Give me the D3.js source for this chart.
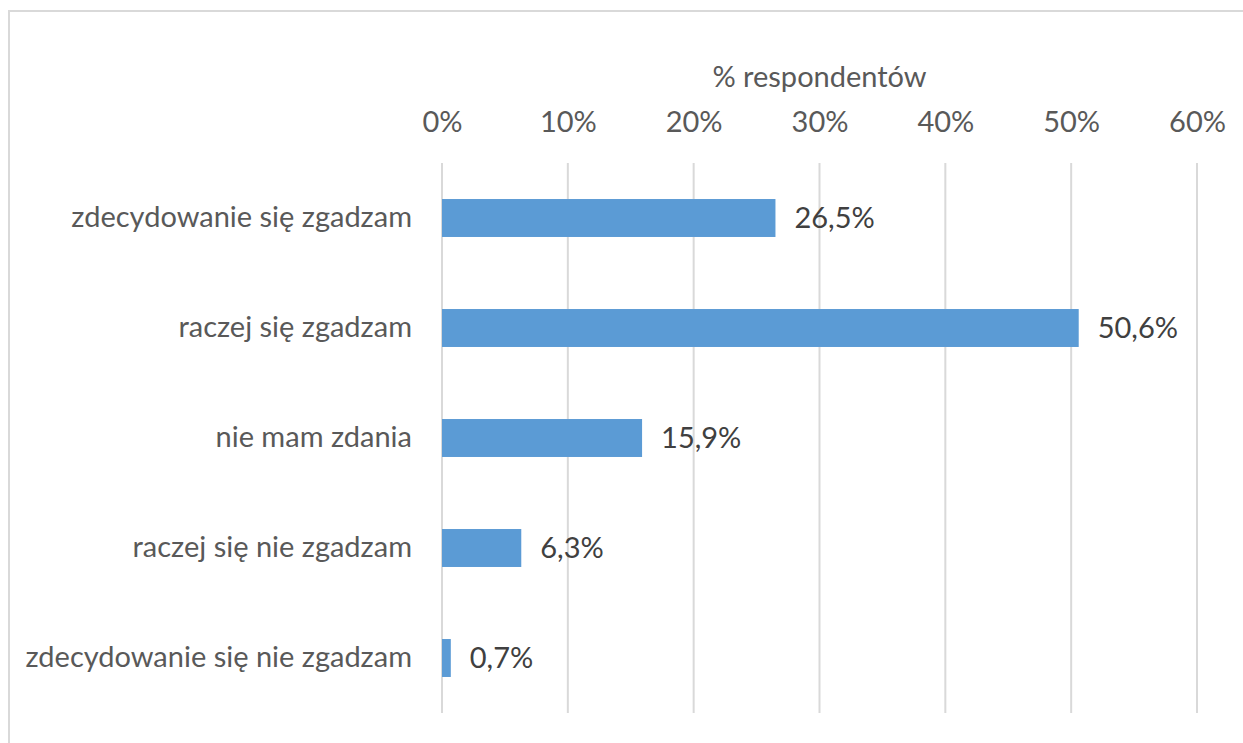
<!DOCTYPE html>
<html>
<head>
<meta charset="utf-8">
<script src="https://cdn.jsdelivr.net/npm/d3@7"></script>
<style>
  body { margin: 0; background: #fff; }
  svg text { font-family: Lato, 'Open Sans', sans-serif; }
</style>
</head>
<body>
<script>
// dane z wykresu
let categories = ['zdecydowanie się zgadzam', 'raczej się zgadzam', 'nie mam zdania', 'raczej się nie zgadzam', 'zdecydowanie się nie zgadzam'];
let values = [26.5, 50.6, 15.9, 6.3, 0.7];
let ticks = [0, 10, 20, 30, 40, 50, 60];
let axisTitle = '% respondentów';

const W = 1243, H = 743;
const margin = {left: 442, right: 46, top: 163, bottom: 30};
const fs = '29px';

let svg = d3.select('body').append('svg')
  .attr('width', W)
  .attr('height', H);

// ramka
svg.append('rect')
  .attr('x', 9).attr('y', 11)
  .attr('width', W + 20).attr('height', H + 20)
  .attr('fill', 'none')
  .attr('stroke', '#d9d9d9')
  .attr('stroke-width', 2);

let x = d3.scaleLinear()
  .domain([0, 60])
  .range([margin.left, W - margin.right]);

let y = d3.scaleBand()
  .domain(categories)
  .range([163, 713])
  .paddingInner(0.655)
  .paddingOuter(0.3275);

// siatka
svg.append('g')
  .selectAll('line')
  .data(ticks)
  .enter()
    .append('line')
    .attr('x1', d => x(d)).attr('x2', d => x(d))
    .attr('y1', 163).attr('y2', 713)
    .attr('stroke', '#d9d9d9')
    .attr('stroke-width', 2);

// os x na gorze
let xAxis = svg.append('g')
  .attr('transform', 'translate(0,' + 132 + ')')
  .call(d3.axisTop(x).tickValues(ticks).tickFormat(d => d + '%').tickSize(0).tickPadding(0));
xAxis.select('.domain').remove();
xAxis.selectAll('text')
  .attr('fill', '#595959')
  .attr('dy', 0)
  .style('font-size', fs);

svg.append('text')
  .attr('x', (x(0) + x(60)) / 2)
  .attr('y', 87)
  .attr('text-anchor', 'middle')
  .attr('fill', '#595959')
  .style('font-size', fs)
  .text(axisTitle);

// slupki
svg.append('g')
  .selectAll('rect')
  .data(values)
  .enter()
    .append('rect')
    .attr('x', x(0))
    .attr('y', (d, i) => y(categories[i]))
    .attr('width', d => x(d) - x(0))
    .attr('height', y.bandwidth())
    .attr('fill', '#5b9bd5');

// etykiety wartosci
svg.append('g')
  .selectAll('text')
  .data(values)
  .enter()
    .append('text')
    .attr('x', d => x(d) + 19)
    .attr('y', (d, i) => y(categories[i]) + y.bandwidth() / 2)
    .attr('dy', '0.35em')
    .attr('fill', '#404040')
    .style('font-size', fs)
    .text(d => d.toFixed(1).replace('.', ',') + '%');

// etykiety kategorii
let yAxis = svg.append('g')
  .attr('transform', 'translate(' + 412 + ',0)')
  .call(d3.axisLeft(y).tickSize(0).tickPadding(0));
yAxis.select('.domain').remove();
yAxis.selectAll('text')
  .attr('fill', '#595959')
  .style('font-size', fs);
</script>
</body>
</html>
